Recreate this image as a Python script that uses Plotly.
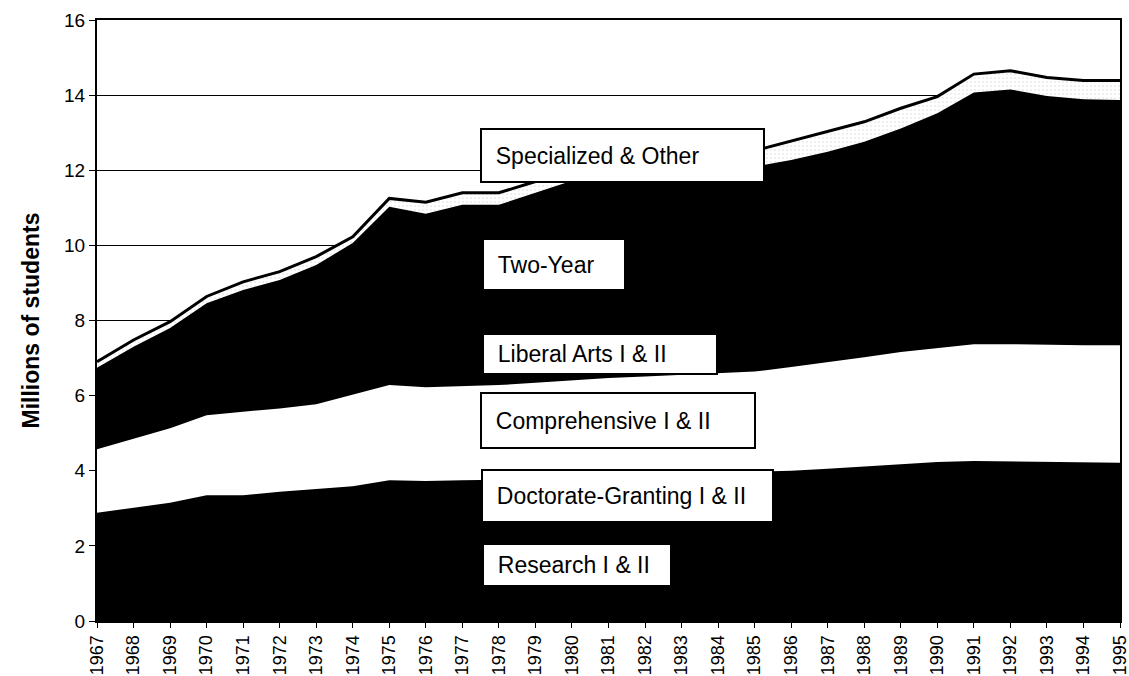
import numpy as np
import plotly.graph_objects as go

years = list(range(1967, 1996))

research = [2.05, 2.13, 2.22, 2.36, 2.36, 2.41, 2.45, 2.50, 2.60, 2.58, 2.59, 2.59, 2.61, 2.63, 2.64,
            2.65, 2.66, 2.67, 2.68, 2.70, 2.72, 2.75, 2.79, 2.82, 2.84, 2.83, 2.81, 2.80, 2.80]
doctorate = [0.83, 0.89, 0.93, 0.99, 0.99, 1.03, 1.06, 1.09, 1.15, 1.15, 1.16, 1.17, 1.19, 1.21, 1.23,
             1.24, 1.26, 1.27, 1.29, 1.30, 1.33, 1.36, 1.39, 1.41, 1.42, 1.42, 1.41, 1.41, 1.41]
comprehensive = [1.69, 1.83, 1.98, 2.13, 2.22, 2.22, 2.26, 2.44, 2.53, 2.49, 2.50, 2.52, 2.54, 2.57, 2.60,
                 2.62, 2.63, 2.65, 2.67, 2.76, 2.83, 2.91, 2.98, 3.04, 3.11, 3.12, 3.13, 3.13, 3.13]
liberal_arts = [0.55, 0.57, 0.58, 0.60, 0.60, 0.60, 0.60, 0.61, 0.62, 0.61, 0.61, 0.61, 0.61, 0.62, 0.62,
                0.62, 0.61, 0.61, 0.60, 0.60, 0.61, 0.62, 0.63, 0.64, 0.65, 0.65, 0.65, 0.64, 0.64]
two_year = [1.62, 1.88, 2.09, 2.38, 2.64, 2.82, 3.11, 3.42, 4.13, 4.01, 4.22, 4.19, 4.45, 4.69, 4.89,
            4.92, 4.92, 4.85, 4.86, 4.91, 5.00, 5.12, 5.32, 5.61, 6.05, 6.13, 5.98, 5.91, 5.89]
specialized = [0.16, 0.18, 0.17, 0.18, 0.22, 0.22, 0.22, 0.17, 0.22, 0.31, 0.32, 0.32, 0.30, 0.40, 0.44,
               0.43, 0.42, 0.41, 0.42, 0.50, 0.54, 0.53, 0.54, 0.44, 0.49, 0.50, 0.49, 0.50, 0.52]

series_names = ["Research I & II", "Doctorate-Granting I & II", "Comprehensive I & II",
                "Liberal Arts I & II", "Two-Year", "Specialized & Other"]
series_values = [research, doctorate, comprehensive, liberal_arts, two_year, specialized]
series_colors = ["black", "black", "white", "black", "black", "white"]

FONT = "Liberation Sans, Arial, Helvetica, sans-serif"

# stacked totals; drawn top layer first, each filled down to zero, so that
# adjacent same-coloured layers show no seams
cum = np.cumsum(np.array(series_values), axis=0)

fig = go.Figure()
for i in range(len(series_names) - 1, -1, -1):
    top = i == len(series_names) - 1
    kw = {}
    if top:
        kw["fillpattern"] = dict(shape=".", fgcolor="#b0b0b0", bgcolor="white", size=4, solidity=0.12)
    fig.add_trace(go.Scatter(
        x=years, y=cum[i], name=series_names[i], mode="lines", fill="tozeroy",
        fillcolor=series_colors[i],
        line=dict(width=3 if top else 0, color="black"),
        hoverinfo="skip", **kw))

# label boxes: (text, x-left in years, y-center in value, box width px, box height px)
labels = [
    ("Specialized & Other", 1977.48, 12.39, 285, 55),
    ("Two-Year", 1977.53, 9.48, 144, 53),
    ("Liberal Arts I & II", 1977.53, 7.10, 236, 42),
    ("Comprehensive I & II", 1977.48, 5.34, 276, 57),
    ("Doctorate-Granting I & II", 1977.50, 3.32, 293, 54),
    ("Research I & II", 1977.53, 1.50, 190, 44),
]
for text, xl, yc, w, h in labels:
    fig.add_annotation(
        x=xl, y=yc, xref="x", yref="y", xanchor="left", yanchor="middle",
        text="&nbsp;&nbsp;" + text, showarrow=False, align="left",
        width=w - 6, height=h - 6, borderpad=1,
        bgcolor="white", bordercolor="black", borderwidth=2,
        font=dict(family=FONT, size=23, color="black"))

fig.add_annotation(
    x=0, y=0.5, xref="paper", yref="paper", xanchor="center", yanchor="middle",
    xshift=-67, yshift=0, textangle=-90, showarrow=False,
    text="<b>Millions of students</b>",
    font=dict(family=FONT, size=23, color="black"))

fig.update_layout(
    width=1129, height=676,
    margin=dict(l=97, r=9, t=20, b=55, autoexpand=False),
    paper_bgcolor="white", plot_bgcolor="white",
    showlegend=False,
    font=dict(family=FONT, size=18, color="black"),
    xaxis=dict(
        range=[1967, 1995], tickmode="array", tickvals=years,
        ticktext=[str(y) for y in years], tickangle=-90, automargin=False,
        ticklabeloverflow="allow",
        showgrid=False, zeroline=False,
        showline=True, linecolor="black", linewidth=2, mirror=True,
        ticks="outside", ticklen=5, tickcolor="black", tickwidth=1,
        tickfont=dict(family=FONT, size=18, color="black"),
    ),
    yaxis=dict(
        range=[0, 16], dtick=2, tick0=0, automargin=False,
        showgrid=True, gridcolor="black", gridwidth=1, zeroline=False,
        showline=True, linecolor="black", linewidth=2, mirror=True,
        ticks="outside", ticklen=6, tickcolor="black", tickwidth=1,
        tickfont=dict(family=FONT, size=19, color="black"),
    ),
)

fig.write_html("out.html", config={"displayModeBar": False},
               post_script="document.body.style.margin='0';")
